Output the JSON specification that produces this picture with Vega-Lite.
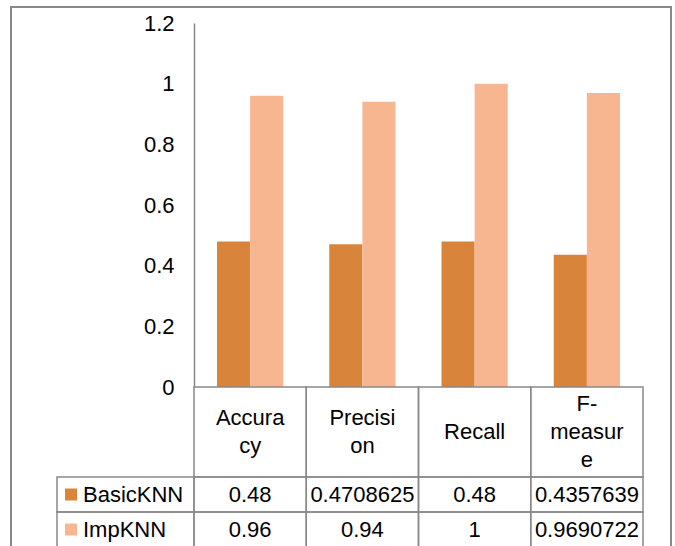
{
  "$schema": "https://vega.github.io/schema/vega-lite/v6.json",
  "width": 660,
  "height": 541,
  "autosize": {"type": "none"},
  "padding": {"left": 11, "top": 7, "right": 4, "bottom": 0},
  "background": "white",
  "config": {
    "view": {"stroke": "#898989", "strokeWidth": 2},
    "font": "Liberation Sans",
    "text": {"font": "Liberation Sans", "fontSize": 22, "color": "black"}
  },
  "datasets": {
    "scores": [
      {"metric": "Accuracy", "model": "BasicKNN", "value": 0.48},
      {"metric": "Precision", "model": "BasicKNN", "value": 0.4708625},
      {"metric": "Recall", "model": "BasicKNN", "value": 0.48},
      {"metric": "F-measure", "model": "BasicKNN", "value": 0.4357639},
      {"metric": "Accuracy", "model": "ImpKNN", "value": 0.96},
      {"metric": "Precision", "model": "ImpKNN", "value": 0.94},
      {"metric": "Recall", "model": "ImpKNN", "value": 1},
      {"metric": "F-measure", "model": "ImpKNN", "value": 0.9690722}
    ],
    "headers": [
      {"metric": "Accuracy", "header": "Accura\ncy"},
      {"metric": "Precision", "header": "Precisi\non"},
      {"metric": "Recall", "header": "Recall"},
      {"metric": "F-measure", "header": "F-\nmeasur\ne"}
    ],
    "models": [{"model": "BasicKNN"}, {"model": "ImpKNN"}]
  },
  "resolve": {"scale": {"x": "independent", "y": "independent", "color": "shared"}},
  "layer": [
    {
      "data": {"name": "scores"},
      "mark": {"type": "bar"},
      "encoding": {
        "x": {
          "field": "metric", "type": "nominal",
          "scale": {"domain": ["Accuracy", "Precision", "Recall", "F-measure"], "range": [183, 632], "paddingInner": 0.41, "paddingOuter": 0.205},
          "axis": null
        },
        "xOffset": {
          "field": "model", "type": "nominal",
          "scale": {"domain": ["BasicKNN", "ImpKNN"], "paddingInner": 0, "paddingOuter": 0}
        },
        "y": {
          "field": "value", "type": "quantitative",
          "scale": {"domain": [0, 1.2], "range": [380, 16], "nice": false},
          "axis": {
            "values": [0, 0.2, 0.4, 0.6, 0.8, 1, 1.2],
            "format": "~g",
            "offset": -183,
            "ticks": false,
            "grid": false,
            "domainColor": "#868686",
            "domainWidth": 1.5,
            "labelFont": "Liberation Sans",
            "labelFontSize": 22,
            "labelColor": "black",
            "labelPadding": 20,
            "labelOverlap": false,
            "labelFlush": false,
            "title": null
          }
        },
        "color": {
          "field": "model", "type": "nominal",
          "scale": {"domain": ["BasicKNN", "ImpKNN"], "range": ["#D9843B", "#F8B690"]},
          "legend": null
        }
      }
    },
    {
      "data": {"name": "headers"},
      "encoding": {
        "x": {
          "field": "metric", "type": "nominal",
          "scale": {"domain": ["Accuracy", "Precision", "Recall", "F-measure"], "range": [183, 632], "paddingInner": 0, "paddingOuter": 0},
          "axis": null
        },
        "y": {
          "datum": "header", "type": "nominal",
          "scale": {"domain": ["header"], "range": [380, 470], "paddingInner": 0, "paddingOuter": 0},
          "axis": null
        }
      },
      "layer": [
        {"mark": {"type": "rect", "fill": "transparent", "stroke": "#898989", "strokeWidth": 1.5}},
        {
          "mark": {
            "type": "text", "lineBreak": "\n", "lineHeight": 28, "baseline": "middle", "align": "center",
            "fontSize": 22, "font": "Liberation Sans",
            "dy": {"expr": "-14*(length(split(datum.header, '\\n'))-1)"}
          },
          "encoding": {"text": {"field": "header", "type": "nominal"}}
        }
      ]
    },
    {
      "data": {"name": "scores"},
      "encoding": {
        "x": {
          "field": "metric", "type": "nominal",
          "scale": {"domain": ["Accuracy", "Precision", "Recall", "F-measure"], "range": [183, 632], "paddingInner": 0, "paddingOuter": 0},
          "axis": null
        },
        "y": {
          "field": "model", "type": "nominal",
          "scale": {"domain": ["BasicKNN", "ImpKNN"], "range": [470, 540], "paddingInner": 0, "paddingOuter": 0},
          "axis": null
        }
      },
      "layer": [
        {"mark": {"type": "rect", "fill": "transparent", "stroke": "#898989", "strokeWidth": 1.5}},
        {
          "mark": {"type": "text", "baseline": "middle", "align": "center", "fontSize": 22, "font": "Liberation Sans"},
          "encoding": {"text": {"field": "value", "type": "nominal"}}
        }
      ]
    },
    {
      "data": {"name": "models"},
      "encoding": {
        "y": {
          "field": "model", "type": "nominal",
          "scale": {"domain": ["BasicKNN", "ImpKNN"], "range": [470, 540], "paddingInner": 0, "paddingOuter": 0},
          "axis": null
        }
      },
      "layer": [
        {
          "mark": {"type": "rect", "fill": "transparent", "stroke": "#898989", "strokeWidth": 1.5},
          "encoding": {
            "x": {"datum": "label", "type": "nominal", "scale": {"domain": ["label"], "range": [46, 183], "paddingInner": 0, "paddingOuter": 0}, "axis": null}
          }
        },
        {
          "mark": {"type": "point", "shape": "square", "filled": true, "size": 144, "opacity": 1, "xOffset": 14},
          "encoding": {
            "x": {"datum": "label", "type": "nominal", "bandPosition": 0, "scale": {"domain": ["label"], "range": [46, 183], "paddingInner": 0, "paddingOuter": 0}, "axis": null},
            "color": {"field": "model", "type": "nominal", "legend": null}
          }
        },
        {
          "mark": {"type": "text", "baseline": "middle", "align": "left", "dx": 26, "fontSize": 22, "font": "Liberation Sans"},
          "encoding": {
            "x": {"datum": "label", "type": "nominal", "bandPosition": 0, "scale": {"domain": ["label"], "range": [46, 183], "paddingInner": 0, "paddingOuter": 0}, "axis": null},
            "text": {"field": "model", "type": "nominal"}
          }
        }
      ]
    }
  ]
}
